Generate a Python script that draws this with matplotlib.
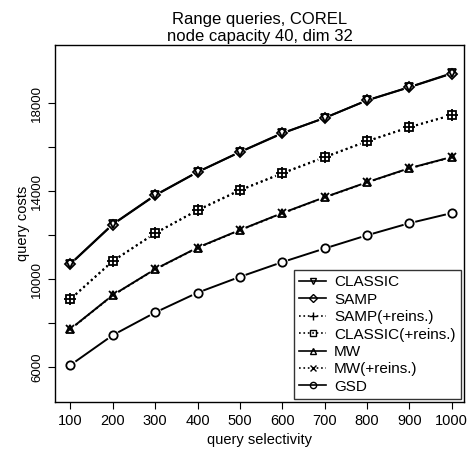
import matplotlib
matplotlib.use("Agg")
import matplotlib.pyplot as plt
from matplotlib.lines import Line2D
import numpy as np

plt.rcParams['font.family'] = ['Liberation Sans', 'DejaVu Sans']

selectivity = [100, 200, 300, 400, 500, 600, 700, 800, 900, 1000]

classic = [10700, 12500, 13820, 14870, 15780, 16640, 17320, 18130, 18730, 19360]
samp = [10680, 12480, 13800, 14860, 15770, 16620, 17330, 18120, 18720, 19340]
samp_reins = [9100, 10830, 12090, 13140, 14050, 14820, 15550, 16270, 16910, 17460]
classic_reins = [9080, 10810, 12080, 13120, 14030, 14800, 15530, 16260, 16900, 17450]
mw = [7730, 9270, 10450, 11430, 12230, 13000, 13720, 14400, 15040, 15550]
mw_reins = [7720, 9260, 10440, 11420, 12220, 12990, 13710, 14390, 15030, 15540]
gsd = [6090, 7450, 8480, 9380, 10100, 10770, 11390, 11990, 12540, 13000]

series = [
    ("CLASSIC", classic, "-", "v", 6),
    ("SAMP", samp, "-", "D", 5),
    ("SAMP(+reins.)", samp_reins, ":", "+", 8),
    ("CLASSIC(+reins.)", classic_reins, ":", "s", 5.5),
    ("MW", mw, "-", "^", 6),
    ("MW(+reins.)", mw_reins, ":", "x", 6),
    ("GSD", gsd, "-", "o", 6),
]

fig = plt.figure(figsize=(4.71, 4.49), dpi=100)
ax = fig.add_axes([0.1168, 0.1047, 0.8684, 0.795])
ax.set_xlim(63.5, 1029)
ax.set_ylim(4410, 20640)

# R type="b": lines stop short of each point
gap = 7  # pixels
handles = []
for name, vals, ls, mk, ms in series:
    pts = ax.transData.transform(np.column_stack([selectivity, vals]))
    for p0, p1 in zip(pts[:-1], pts[1:]):
        d = p1 - p0
        n = np.hypot(*d)
        a = p0 + d / n * gap
        b = p1 - d / n * gap
        seg = ax.transData.inverted().transform(np.array([a, b]))
        ax.plot(seg[:, 0], seg[:, 1], linestyle=ls, color="black", linewidth=1.4)
    ax.plot(selectivity, vals, linestyle="none", marker=mk, markersize=ms,
            markerfacecolor="none", markeredgecolor="black", markeredgewidth=1.3)
    handles.append(Line2D([], [], linestyle=ls, color="black", linewidth=1.2,
                          marker=mk, markersize=ms * 0.75, markerfacecolor="none",
                          markeredgecolor="black", markeredgewidth=1.0, label=name))

ax.set_xticks(selectivity)
ax.set_xticklabels([str(s) for s in selectivity])
yt = [6000, 8000, 10000, 12000, 14000, 16000, 18000]
ax.set_yticks(yt)
ax.set_yticklabels([str(v) if i % 2 == 0 else "" for i, v in enumerate(yt)],
                   rotation=90, va="center", fontsize=9.5)
ax.tick_params(direction="out", length=5, width=0.8, colors="black")
ax.tick_params(axis="x", labelsize=10.5)
for sp in ax.spines.values():
    sp.set_linewidth(1.0)

ax.set_xlabel("query selectivity", fontsize=10.5, labelpad=4)
ax.set_ylabel("query costs", fontsize=10.5, labelpad=1)
ax.set_title("Range queries, COREL\nnode capacity 40, dim 32", fontsize=12,
             linespacing=1.15, pad=3)

leg = ax.legend(handles=handles, loc="lower right", fontsize=11, frameon=True,
                fancybox=False, edgecolor="black", handlelength=1.8,
                handletextpad=0.5, borderpad=0.35, labelspacing=0.22,
                borderaxespad=0.2)
leg.get_frame().set_linewidth(1.0)

fig.savefig("out.png", dpi=100)
